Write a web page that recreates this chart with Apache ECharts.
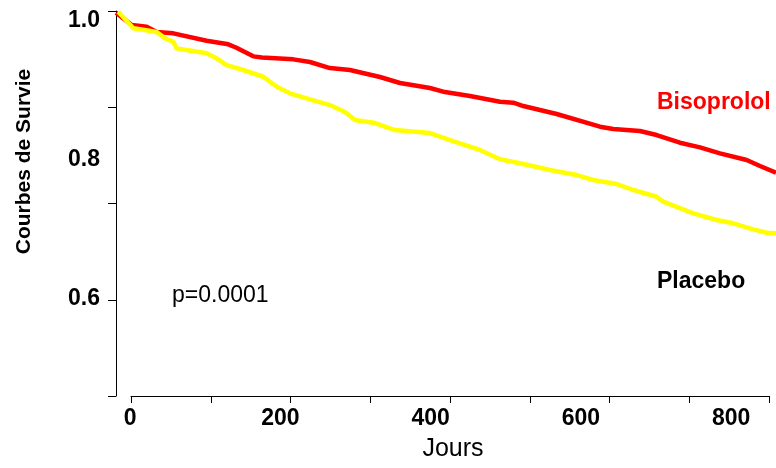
<!DOCTYPE html>
<html><head><meta charset="utf-8">
<script src="https://cdn.jsdelivr.net/npm/echarts@6/dist/echarts.min.js"></script>
<style>html,body{margin:0;padding:0;background:#fff}#c{width:776px;height:468px}</style>
</head><body><div id="c"></div>
<script>
// ---- data ----
const xTickLabels = [0, 200, 400, 600, 800];
const yTickLabels = [0.6, 0.8, 1.0];
const xTickMarks = [0, 100, 200, 300, 400, 500, 600, 700, 800];
const yTickMarks = [0.4603, 0.5983, 0.7378, 0.8747, 1.0137];

const bisoDays = [-18.8, 2.1, 22.0, 35.4, 57.5, 101.9, 130.7, 140.9, 164.0, 175.5, 217.2, 239.4, 266.0, 292.7, 332.6, 359.3, 399.2, 419.1, 452.4, 492.4, 510.1, 523.4, 567.8, 625.5, 643.2, 678.7, 700.9, 731.9, 758.6, 785.2, 820.8, 838.5, 859.8];
const bisoSurv = [1.0112, 0.9935, 0.9911, 0.9835, 0.9816, 0.9710, 0.9658, 0.9612, 0.9485, 0.9468, 0.9442, 0.9404, 0.9317, 0.9289, 0.9188, 0.9102, 0.9030, 0.8972, 0.8915, 0.8833, 0.8819, 0.8771, 0.8656, 0.8474, 0.8441, 0.8412, 0.8354, 0.8244, 0.8177, 0.8091, 0.7995, 0.7909, 0.7812];

const placDays = [-15.8, 4.2, 13.1, 35.4, 46.4, 57.5, 62.0, 75.3, 101.9, 115.2, 128.5, 150.6, 177.3, 195.1, 212.8, 239.4, 266.0, 286.0, 299.3, 325.9, 352.5, 399.2, 425.8, 465.7, 492.4, 519.0, 558.9, 594.5, 616.5, 647.7, 669.8, 700.9, 709.7, 749.7, 780.8, 802.9, 829.5, 847.4, 859.8];
const placSurv = [1.0126, 0.9888, 0.9874, 0.9835, 0.9744, 0.9695, 0.9600, 0.9576, 0.9529, 0.9457, 0.9360, 0.9289, 0.9192, 0.9049, 0.8954, 0.8867, 0.8785, 0.8685, 0.8570, 0.8527, 0.8426, 0.8383, 0.8282, 0.8139, 0.8005, 0.7948, 0.7851, 0.7779, 0.7708, 0.7650, 0.7564, 0.7467, 0.7396, 0.7229, 0.7133, 0.7085, 0.6999, 0.6950, 0.6941];

const seriesNames = ['Bisoprolol', 'Placebo'];
const pValueText = 'p=0.0001';
const xName = 'Jours';
const yName = 'Courbes de Survie';

// ---- chart ----
const FONT = "'Liberation Sans', Arial, sans-serif";
const zip = (a, b) => a.map((v, i) => [v, b[i]]);
const chart = echarts.init(document.getElementById('c'), null, {renderer: 'canvas'});
chart.setOption({
  animation: false,
  backgroundColor: '#ffffff',
  grid: [
    {left: 116, right: 0, top: 11, bottom: 72},
    {left: 131, right: 7, top: 11, bottom: 72}
  ],
  xAxis: [
    {
      gridIndex: 0, type: 'value', min: -18.8, max: 859.8,
      axisLine: {show: false, onZero: false}, axisTick: {show: false}, splitLine: {show: false},
      axisLabel: {
        customValues: xTickLabels, margin: 11,
        color: '#000', fontFamily: FONT, fontWeight: 'bold', fontSize: 23
      }
    },
    {
      gridIndex: 1, type: 'value', min: 0, max: 800, interval: 100,
      axisLine: {show: true, onZero: false, lineStyle: {color: '#000', width: 1}},
      axisTick: {show: true, length: 7, lineStyle: {color: '#000', width: 1}},
      axisLabel: {show: false}, splitLine: {show: false},
      name: xName, nameLocation: 'middle', nameGap: 41,
      nameTextStyle: {color: '#000', fontFamily: FONT, fontSize: 25, padding: [0, 0, 0, 6]}
    }
  ],
  yAxis: [
    {
      gridIndex: 0, type: 'value', min: 0.4603, max: 1.0137,
      axisLine: {show: true, onZero: false, lineStyle: {color: '#000', width: 1}},
      axisTick: {show: true, length: 8, customValues: yTickMarks, lineStyle: {color: '#000', width: 1}},
      splitLine: {show: false},
      axisLabel: {
        customValues: yTickLabels, margin: 16,
        formatter: v => v.toFixed(1),
        color: '#000', fontFamily: FONT, fontWeight: 'bold', fontSize: 23
      },
      name: yName, nameLocation: 'middle', nameGap: 81, nameRotate: 90,
      nameTextStyle: {color: '#000', fontFamily: FONT, fontWeight: 'bold', fontSize: 21, padding: [0, 0, 0, 84]}
    },
    {gridIndex: 1, type: 'value', min: 0.4603, max: 1.0137, show: false}
  ],
  series: [
    {
      name: seriesNames[0], type: 'line', xAxisIndex: 0, yAxisIndex: 0,
      data: zip(bisoDays, bisoSurv), showSymbol: false, smooth: false,
      lineStyle: {color: '#ff0000', width: 4.5}, z: 2
    },
    {
      name: seriesNames[1], type: 'line', xAxisIndex: 0, yAxisIndex: 0,
      data: zip(placDays, placSurv), showSymbol: false, smooth: false,
      lineStyle: {color: '#ffff00', width: 4.5}, z: 3
    }
  ],
  graphic: [
    {type: 'text', left: 657, top: 91, style: {text: seriesNames[0], fill: '#ff0000', font: "bold 23px 'Liberation Sans', Arial, sans-serif"}},
    {type: 'text', left: 657, top: 270, style: {text: seriesNames[1], fill: '#000000', font: "bold 23px 'Liberation Sans', Arial, sans-serif"}},
    {type: 'text', left: 172, top: 284, style: {text: pValueText, fill: '#000000', font: "23px 'Liberation Sans', Arial, sans-serif"}}
  ]
});
</script>
</body></html>
